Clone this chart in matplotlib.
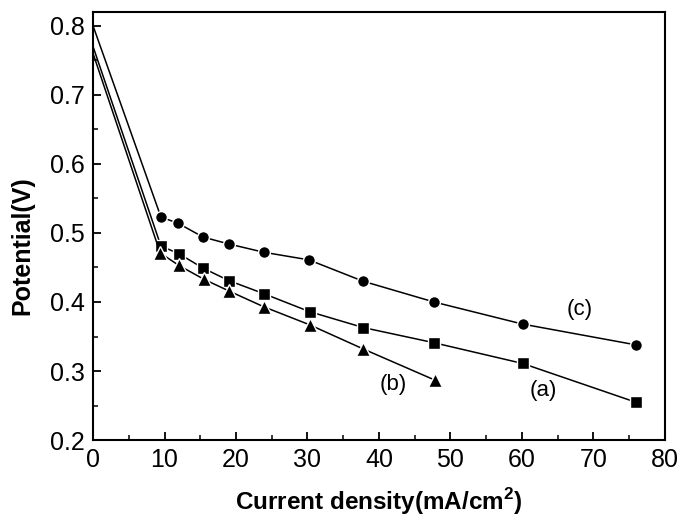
import matplotlib
matplotlib.use("Agg")
import matplotlib.pyplot as plt
from matplotlib.ticker import MultipleLocator

plt.rcParams['font.family'] = ['Liberation Sans', 'DejaVu Sans']
plt.rcParams['mathtext.fontset'] = 'custom'
plt.rcParams['mathtext.bf'] = 'Liberation Sans:bold'

# data
x_a = [0, 9.5, 12.0, 15.4, 19.0, 23.9, 30.3, 37.8, 47.7, 60.1, 75.9]
y_a = [0.77, 0.481, 0.470, 0.449, 0.431, 0.412, 0.386, 0.363, 0.341, 0.311, 0.255]

x_b = [0, 9.4, 12.0, 15.5, 19.0, 23.9, 30.3, 37.8, 47.8]
y_b = [0.76, 0.471, 0.453, 0.433, 0.416, 0.393, 0.367, 0.332, 0.287]

x_c = [0, 9.5, 11.9, 15.4, 19.0, 23.9, 30.2, 37.8, 47.7, 60.1, 75.9]
y_c = [0.80, 0.523, 0.514, 0.494, 0.484, 0.472, 0.461, 0.430, 0.400, 0.368, 0.338]

fig = plt.figure(figsize=(6.84, 5.19), dpi=100)
ax = fig.add_axes([0.136, 0.152, 0.836, 0.825])

# white marker edges give the small gaps around the points,
# the point at zero current has no marker
mk = dict(color='black', lw=1.1, mec='white', mew=1.0, markevery=slice(1, None))
ax.plot(x_a, y_a, marker='s', ms=8, **mk)
ax.plot(x_b, y_b, marker='^', ms=9.5, **mk)
ax.plot(x_c, y_c, marker='o', ms=8.5, **mk)

ax.text(68.1, 0.389, '(c)', fontsize=16, ha='center', va='center')
ax.text(63.0, 0.272, '(a)', fontsize=16, ha='center', va='center')
ax.text(42.0, 0.280, '(b)', fontsize=16, ha='center', va='center')

ax.set_xlim(0, 80)
ax.set_ylim(0.2, 0.82)
ax.xaxis.set_major_locator(MultipleLocator(10))
ax.xaxis.set_minor_locator(MultipleLocator(5))
ax.yaxis.set_major_locator(MultipleLocator(0.1))
ax.yaxis.set_minor_locator(MultipleLocator(0.05))
ax.tick_params(which='both', direction='in', labelsize=18, top=False, right=False)
ax.tick_params(which='major', length=6, width=1.3, pad=6)
ax.tick_params(which='minor', length=3.5, width=1.1)
for s in ax.spines.values():
    s.set_linewidth(1.5)

ax.set_xlabel('Current density(mA/cm$^\\mathbf{2}$)', fontsize=17.5, fontweight='bold')
ax.set_ylabel('Potential(V)', fontsize=18, fontweight='bold')
ax.xaxis.set_label_coords(0.5, -0.108)
ax.yaxis.set_label_coords(-0.102, 0.455)

fig.savefig('out.png', dpi=100)
